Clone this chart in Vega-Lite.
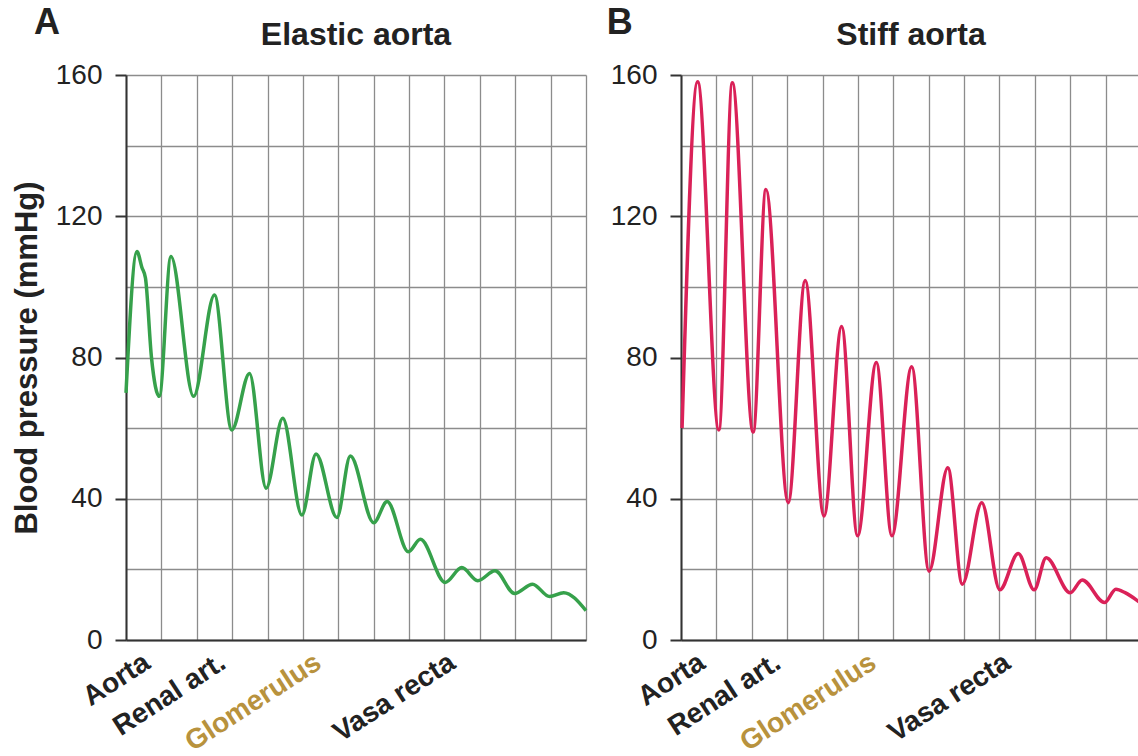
{
  "$schema": "https://vega.github.io/schema/vega-lite/v6.json",
  "padding": {"left": 11, "top": 5, "right": 0, "bottom": 0},
  "background": "white",
  "spacing": 4,
  "config": {
    "font": "Liberation Sans",
    "view": {"stroke": null},
    "axis": {"gridColor": "#8c8c8c", "gridWidth": 1.3, "domainColor": "#333333", "domainWidth": 2, "tickColor": "#333333", "tickWidth": 2, "labelColor": "#222222", "titleColor": "#222222"},
    "title": {"fontSize": 32, "fontWeight": "bold", "color": "#222222"}
  },
  "datasets": {
    "elastic": [
      {"pos": 0, "pressure": 70},
      {"pos": 0.31, "pressure": 110},
      {"pos": 0.45, "pressure": 105.5},
      {"pos": 0.55, "pressure": 102.5},
      {"pos": 0.72, "pressure": 80},
      {"pos": 0.94, "pressure": 69},
      {"pos": 1.27, "pressure": 108.6},
      {"pos": 1.91, "pressure": 69},
      {"pos": 2.5, "pressure": 97.7},
      {"pos": 2.99, "pressure": 59.5},
      {"pos": 3.49, "pressure": 75.5},
      {"pos": 3.96, "pressure": 43},
      {"pos": 4.43, "pressure": 62.8},
      {"pos": 4.97, "pressure": 35.4},
      {"pos": 5.37, "pressure": 52.7},
      {"pos": 5.96, "pressure": 34.7},
      {"pos": 6.34, "pressure": 52.1},
      {"pos": 7.0, "pressure": 33.2},
      {"pos": 7.38, "pressure": 39.2},
      {"pos": 7.98, "pressure": 25},
      {"pos": 8.32, "pressure": 28.5},
      {"pos": 9.02, "pressure": 16.3},
      {"pos": 9.49, "pressure": 20.5},
      {"pos": 9.94, "pressure": 16.8},
      {"pos": 10.43, "pressure": 19.6},
      {"pos": 10.98, "pressure": 13.2},
      {"pos": 11.49, "pressure": 15.8},
      {"pos": 11.97, "pressure": 12.3},
      {"pos": 12.37, "pressure": 13.4},
      {"pos": 13, "pressure": 8.3}
    ],
    "stiff": [
      {"pos": 0.03, "pressure": 60},
      {"pos": 0.47, "pressure": 158.1},
      {"pos": 1.07, "pressure": 59.5},
      {"pos": 1.45, "pressure": 157.8},
      {"pos": 2.04, "pressure": 58.9},
      {"pos": 2.4, "pressure": 127.6},
      {"pos": 3.03, "pressure": 38.9},
      {"pos": 3.51, "pressure": 101.8},
      {"pos": 4.04, "pressure": 35.1},
      {"pos": 4.54, "pressure": 88.8},
      {"pos": 4.99, "pressure": 29.5},
      {"pos": 5.52, "pressure": 78.6},
      {"pos": 5.96, "pressure": 29.5},
      {"pos": 6.52, "pressure": 77.4},
      {"pos": 7.01, "pressure": 19.5},
      {"pos": 7.54, "pressure": 48.8},
      {"pos": 7.95, "pressure": 15.8},
      {"pos": 8.5, "pressure": 38.9},
      {"pos": 9.01, "pressure": 14.2},
      {"pos": 9.53, "pressure": 24.5},
      {"pos": 9.98, "pressure": 14.2},
      {"pos": 10.32, "pressure": 23.3},
      {"pos": 11.0, "pressure": 13.4},
      {"pos": 11.34, "pressure": 17},
      {"pos": 11.97, "pressure": 10.6},
      {"pos": 12.29, "pressure": 14.4},
      {"pos": 12.55, "pressure": 13.4},
      {"pos": 13, "pressure": 10.4}
    ]
  },
  "hconcat": [
    {
      "width": 460,
      "height": 565,
      "title": {"text": "Elastic aorta", "anchor": "middle", "baseline": "alphabetic", "offset": 0, "dy": 72},
      "layer": [
        {
          "data": {"name": "elastic"},
          "mark": {"type": "line", "interpolate": "monotone", "color": "#36a14b", "strokeWidth": 3.5},
          "encoding": {
            "x": {"field": "pos", "type": "quantitative", "title": null,
              "scale": {"domain": [0, 13], "nice": false, "zero": false},
              "axis": {"values": [0,0.38,1,2,2.52,3,4,5,5.22,6,7,8,9,9.0001,10,11,12,13],
                "tickCount": 100,
                "labelExpr": "datum.value === 0.38 ? 'Aorta' : datum.value === 2.52 ? 'Renal art.' : datum.value === 5.22 ? 'Glomerulus' : datum.value === 9.0001 ? 'Vasa recta' : ''",
                "gridOpacity": {"condition": {"test": "datum.value % 1 === 0", "value": 1}, "value": 0},
                "ticks": false, "labelAngle": -33, "labelAlign": "right", "labelBaseline": "top",
                "labelFontSize": 28, "labelFontWeight": "bold",
                "labelColor": {"condition": {"test": "datum.value === 5.22", "value": "#b8923d"}, "value": "#222222"},
                "labelPadding": 8, "labelOverlap": false, "labelFlush": false, "labelBound": false}},
            "y": {"field": "pressure", "type": "quantitative", "title": "Blood pressure (mmHg)",
              "scale": {"domain": [0, 160], "nice": false},
              "axis": {"values": [0,20,40,60,80,100,120,140,160],
                "tickCount": 100,
                "labelExpr": "datum.value % 40 === 0 ? datum.label : ''",
                "tickOpacity": {"condition": {"test": "datum.value % 40 === 0", "value": 1}, "value": 0},
                "tickSize": 11, "labelFontSize": 28, "labelPadding": 13, "labelFlush": false, "labelOverlap": false,
                "titleFontSize": 31, "titleFontWeight": "bold", "titlePadding": 12}}
          }
        },
        {
          "data": {"values": [{"letter": "A"}]},
          "mark": {"type": "text", "fontSize": 36, "fontWeight": "bold", "align": "left", "baseline": "alphabetic", "color": "#222222"},
          "encoding": {
            "text": {"field": "letter"},
            "x": {"datum": -2.6, "title": null},
            "y": {"datum": 171.6, "title": "Blood pressure (mmHg)"}
          }
        }
      ]
    },
    {
      "width": 460,
      "height": 565,
      "title": {"text": "Stiff aorta", "anchor": "middle", "baseline": "alphabetic", "offset": 0, "dy": 72},
      "layer": [
        {
          "data": {"name": "stiff"},
          "mark": {"type": "line", "interpolate": "monotone", "color": "#da2158", "strokeWidth": 3.5},
          "encoding": {
            "x": {"field": "pos", "type": "quantitative", "title": null,
              "scale": {"domain": [0, 13], "nice": false, "zero": false},
              "axis": {"values": [0,0.38,1,2,2.52,3,4,5,5.22,6,7,8,9,9.0001,10,11,12,13],
                "tickCount": 100,
                "labelExpr": "datum.value === 0.38 ? 'Aorta' : datum.value === 2.52 ? 'Renal art.' : datum.value === 5.22 ? 'Glomerulus' : datum.value === 9.0001 ? 'Vasa recta' : ''",
                "gridOpacity": {"condition": {"test": "datum.value % 1 === 0", "value": 1}, "value": 0},
                "ticks": false, "labelAngle": -33, "labelAlign": "right", "labelBaseline": "top",
                "labelFontSize": 28, "labelFontWeight": "bold",
                "labelColor": {"condition": {"test": "datum.value === 5.22", "value": "#b8923d"}, "value": "#222222"},
                "labelPadding": 8, "labelOverlap": false, "labelFlush": false, "labelBound": false}},
            "y": {"field": "pressure", "type": "quantitative", "title": null,
              "scale": {"domain": [0, 160], "nice": false},
              "axis": {"values": [0,20,40,60,80,100,120,140,160],
                "tickCount": 100,
                "labelExpr": "datum.value % 40 === 0 ? datum.label : ''",
                "tickOpacity": {"condition": {"test": "datum.value % 40 === 0", "value": 1}, "value": 0},
                "tickSize": 11, "labelFontSize": 28, "labelPadding": 13, "labelFlush": false, "labelOverlap": false}}
          }
        },
        {
          "data": {"values": [{"letter": "B"}]},
          "mark": {"type": "text", "fontSize": 36, "fontWeight": "bold", "align": "left", "baseline": "alphabetic", "color": "#222222"},
          "encoding": {
            "text": {"field": "letter"},
            "x": {"datum": -2.1, "title": null},
            "y": {"datum": 171.6, "title": null}
          }
        }
      ]
    }
  ]
}
